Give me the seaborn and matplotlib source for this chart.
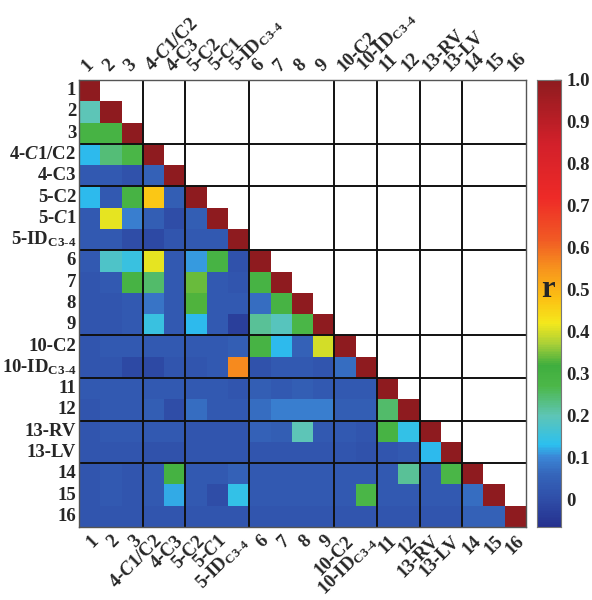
import numpy as np
import pandas as pd
import matplotlib
matplotlib.use("Agg")
import matplotlib.pyplot as plt
from matplotlib.colors import LinearSegmentedColormap
import seaborn as sns

# groups of regions (lines are drawn between groups)
groups = [
    ["1", "2", "3"],
    ["4-$\\mathbf{\\mathit{C1}}$/C2", "4-C3"],
    ["5-C2", "5-$\\mathbf{\\mathit{C1}}$", "5-ID$_{\\mathregular{C3\u20104}}$"],
    ["6", "7", "8", "9"],
    ["10-C2", "10-ID$_{\\mathregular{C3\u20104}}$"],
    ["11", "12"],
    ["13-RV", "13-LV"],
    ["14", "15", "16"],
]

# lower triangle of r, row by row (row i holds columns 0..i-1)
r_lower = [
    [0.20],
    [0.29, 0.29],
    [0.13, 0.24, 0.28],
    [0.03, 0.03, 0.01, 0.05],
    [0.13, 0.03, 0.29, 0.47, 0.04],
    [0.03, 0.41, 0.09, 0.04, 0.00, 0.04],
    [0.03, 0.03, 0.00, -0.01, 0.02, 0.03, 0.03],
    [0.03, 0.18, 0.15, 0.41, 0.03, 0.11, 0.29, 0.01],
    [0.02, 0.03, 0.29, 0.25, 0.03, 0.34, 0.03, 0.02, 0.29],
    [0.02, 0.02, 0.03, 0.08, 0.03, 0.33, 0.03, 0.03, 0.07, 0.29],
    [0.02, 0.02, 0.03, 0.15, 0.03, 0.13, 0.03, -0.03, 0.22, 0.19, 0.28],
    [0.02, 0.03, 0.03, 0.03, 0.03, 0.03, 0.03, 0.04, 0.29, 0.13, 0.05, 0.40],
    [0.02, 0.02, -0.01, -0.01, 0.02, 0.02, 0.03, 0.56, 0.01, 0.03, 0.03, 0.02, 0.07],
    [0.03, 0.03, 0.03, 0.03, 0.03, 0.03, 0.03, 0.02, 0.04, 0.03, 0.04, 0.03, 0.03, 0.03],
    [0.02, 0.03, 0.03, 0.04, 0.00, 0.07, 0.03, 0.03, 0.07, 0.09, 0.09, 0.09, 0.04, 0.04, 0.25],
    [0.02, 0.03, 0.03, 0.03, 0.03, 0.02, 0.02, 0.02, 0.05, 0.04, 0.20, 0.03, 0.03, 0.02, 0.29, 0.14],
    [0.02, 0.02, 0.02, 0.01, 0.01, 0.02, 0.02, 0.02, 0.02, 0.02, 0.02, 0.02, 0.02, 0.01, 0.02, 0.03, 0.13],
    [0.02, 0.03, 0.02, 0.03, 0.30, 0.03, 0.03, 0.05, 0.03, 0.03, 0.03, 0.03, 0.03, 0.03, 0.03, 0.22, 0.03, 0.28],
    [0.02, 0.03, 0.02, 0.03, 0.12, 0.03, 0.00, 0.14, 0.03, 0.03, 0.03, 0.03, 0.03, 0.28, 0.03, 0.03, 0.03, 0.03, 0.07],
    [0.02, 0.02, 0.02, 0.02, 0.02, 0.02, 0.02, 0.02, 0.02, 0.02, 0.02, 0.02, 0.02, 0.02, 0.02, 0.02, 0.02, 0.02, 0.05, 0.05],
]

cbar_ticks = [0, 0.1, 0.2, 0.3, 0.4, 0.5, 0.6, 0.7, 0.8, 0.9, 1.0]
cbar_ticklabels = ["0", "0.1", "0.2", "0.3", "0.4", "0.5", "0.6", "0.7", "0.8", "0.9", "1.0"]
vmin, vmax = -0.065, 1.0

labels = [lab for g in groups for lab in g]
n = len(labels)
mat = np.eye(n)
for i, row in enumerate(r_lower, start=1):
    mat[i, :i] = row
    mat[:i, i] = row
df = pd.DataFrame(mat, index=labels, columns=labels)
mask = np.triu(np.ones_like(mat, dtype=bool), k=1)

# colour scale
anchors = [
    (-0.065, "#25308e"), (0.0, "#2f4ea8"), (0.06, "#3566bb"), (0.10, "#3b86d6"),
    (0.13, "#2cc0ef"), (0.20, "#5ec5b5"), (0.27, "#4cb748"), (0.32, "#3fae3e"),
    (0.37, "#a8cf38"), (0.42, "#f4e81c"), (0.48, "#fcc013"), (0.55, "#f7941d"),
    (0.62, "#f15a24"), (0.72, "#ee2a27"), (0.85, "#d2202a"), (1.0, "#8e1b1f"),
]
cmap = LinearSegmentedColormap.from_list(
    "rmap", [((v - vmin) / (vmax - vmin), c) for v, c in anchors])

sns.set_style("white")
plt.rcParams["font.family"] = ["Liberation Serif", "DejaVu Serif"]
plt.rcParams["font.weight"] = "bold"
plt.rcParams["mathtext.fontset"] = "custom"
plt.rcParams["mathtext.rm"] = "Liberation Serif:bold"
plt.rcParams["mathtext.it"] = "Liberation Serif:italic:bold"
plt.rcParams["mathtext.bf"] = "Liberation Serif:italic:bold"

fig = plt.figure(figsize=(5.92, 6.0), dpi=100)
ax = fig.add_axes([79 / 592, 73 / 600, 447 / 592, 447 / 600])
cax = fig.add_axes([537 / 592, 73 / 600, 24 / 592, 447 / 600])

sns.heatmap(df, mask=mask, cmap=cmap, vmin=vmin, vmax=vmax, ax=ax, cbar_ax=cax,
            xticklabels=True, yticklabels=True)

# group separators across the whole grid
bounds = np.cumsum([len(g) for g in groups])[:-1]
for b in bounds:
    ax.axhline(b, color="#111111", lw=1.4)
    ax.axvline(b, color="#111111", lw=1.4)
for s in ax.spines.values():
    s.set_visible(True)
    s.set_color("#555555")
    s.set_linewidth(1.0)

fs = 13.5
ax.set_yticklabels(labels, rotation=0, fontsize=fs, fontweight="bold")
ax.set_xticklabels(labels, rotation=45, ha="right", rotation_mode="anchor",
                   fontsize=fs, fontweight="bold")
ax.tick_params(axis="both", direction="in", length=2, width=1, color="#333333")
ax.tick_params(axis="x", bottom=True, pad=4)
ax.tick_params(axis="y", left=True, pad=2)
for i, lab in enumerate(labels):
    ax.text(i + 0.55, -0.25, lab, rotation=45, ha="left", va="bottom",
            rotation_mode="anchor", fontsize=fs, fontweight="bold")
ax.set_xlabel("")
ax.set_ylabel("")

cax.set_ylim(vmin, vmax)
cax.set_yticks(cbar_ticks)
cax.set_yticklabels(cbar_ticklabels, fontsize=fs, fontweight="bold")
cax.tick_params(axis="y", direction="in", length=5, width=1, right=True, color="#1a1a1a", pad=4)
for s in cax.spines.values():
    s.set_visible(True)
    s.set_color("#777777")
cax.text(0.45, 0.5, "r", transform=cax.get_yaxis_transform(), ha="center", va="center",
         fontsize=22, fontweight="bold")

fig.savefig("out.png", dpi=100)
